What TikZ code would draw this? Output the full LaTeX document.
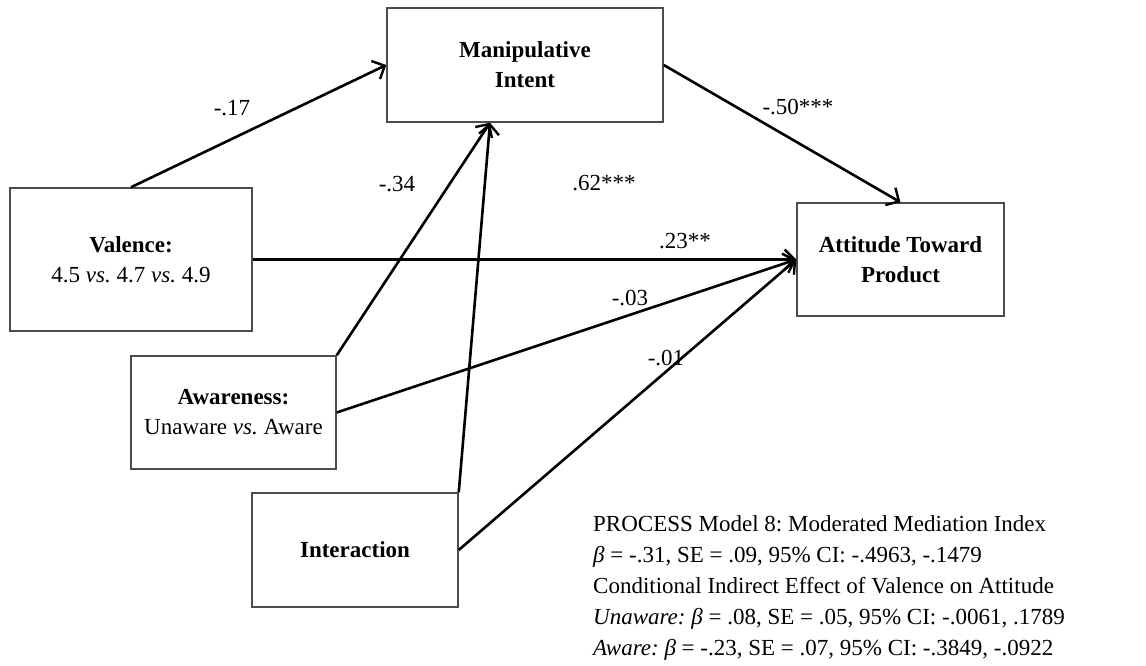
\documentclass[tikz,border=0pt]{standalone}
\usepackage{fontspec}
\setmainfont{Liberation Serif}
\usetikzlibrary{arrows.meta}
\frenchspacing

\begin{document}
\begin{tikzpicture}[x=1pt,y=-1pt,
		varbox/.style={draw=black!70, line width=1.5pt, inner sep=0pt, align=center, font=\fontsize{23}{30}\selectfont},
		path/.style={line width=2.6pt, -{Straight Barb[length=10pt,width=20pt,line width=2.4pt]}},
		coef/.style={anchor=base, font=\fontsize{23}{28}\selectfont}]
			\useasboundingbox (0,0) rectangle (1146,666);
			\node[varbox, minimum width=276pt, minimum height=114pt] (mi) at (525,65) {\textbf{Manipulative}\\\textbf{Intent}};
			\node[varbox, minimum width=242pt, minimum height=143pt] (val) at (131,259.5) {\textbf{Valence:}\\4.5 \textit{vs.} 4.7 \textit{vs.} 4.9};
			\node[varbox, minimum width=207pt, minimum height=113pt] (att) at (900.5,259.5) {\textbf{Attitude Toward}\\\textbf{Product}};
			\node[varbox, minimum width=205pt, minimum height=113pt] (aw) at (233.5,412.5) {\textbf{Awareness:}\\Unaware \textit{vs.} Aware};
			\node[varbox, minimum width=206pt, minimum height=114pt] (int) at (355,550) {\textbf{Interaction}};
			\coordinate (mitip) at ([xshift=-35pt]mi.south);
			\draw[path] (val.north) -- (mi.west);
			\draw[path] (aw.north east) -- (mitip);
			\draw[path] (int.north east) -- (mitip);
			\draw[path] (mi.east) -- (att.north);
			\draw[path] (val.east) -- (att.west);
			\draw[path] (aw.east) -- (att.west);
			\draw[path] (int.east) -- (att.west);
			\node[coef] (c17) at (232,116) {-.17};
			\node[coef] (c34) at (397,191) {-.34};
			\node[coef] (c62) at (604,190) {.62***};
			\node[coef] (c50) at (798,115) {-.50***};
			\node[coef] (c23) at (685,248) {.23**};
			\node[coef] (c03) at (630,305) {-.03};
			\node[coef] (c01) at (666,365) {-.01};
			\node[anchor=base west, align=left, inner sep=0pt, font=\fontsize{23}{31}\selectfont] (note) at (593,655) {PROCESS Model 8: Moderated Mediation Index\\
				\textit{β} = -.31, SE = .09, 95\% CI: -.4963, -.1479\\
				Conditional Indirect Effect of Valence on Attitude\\
				\textit{Unaware: β} = .08, SE = .05, 95\% CI: -.0061, .1789\\
				\textit{Aware: β} = -.23, SE = .07, 95\% CI: -.3849, -.0922};
		\end{tikzpicture}
\end{document}
